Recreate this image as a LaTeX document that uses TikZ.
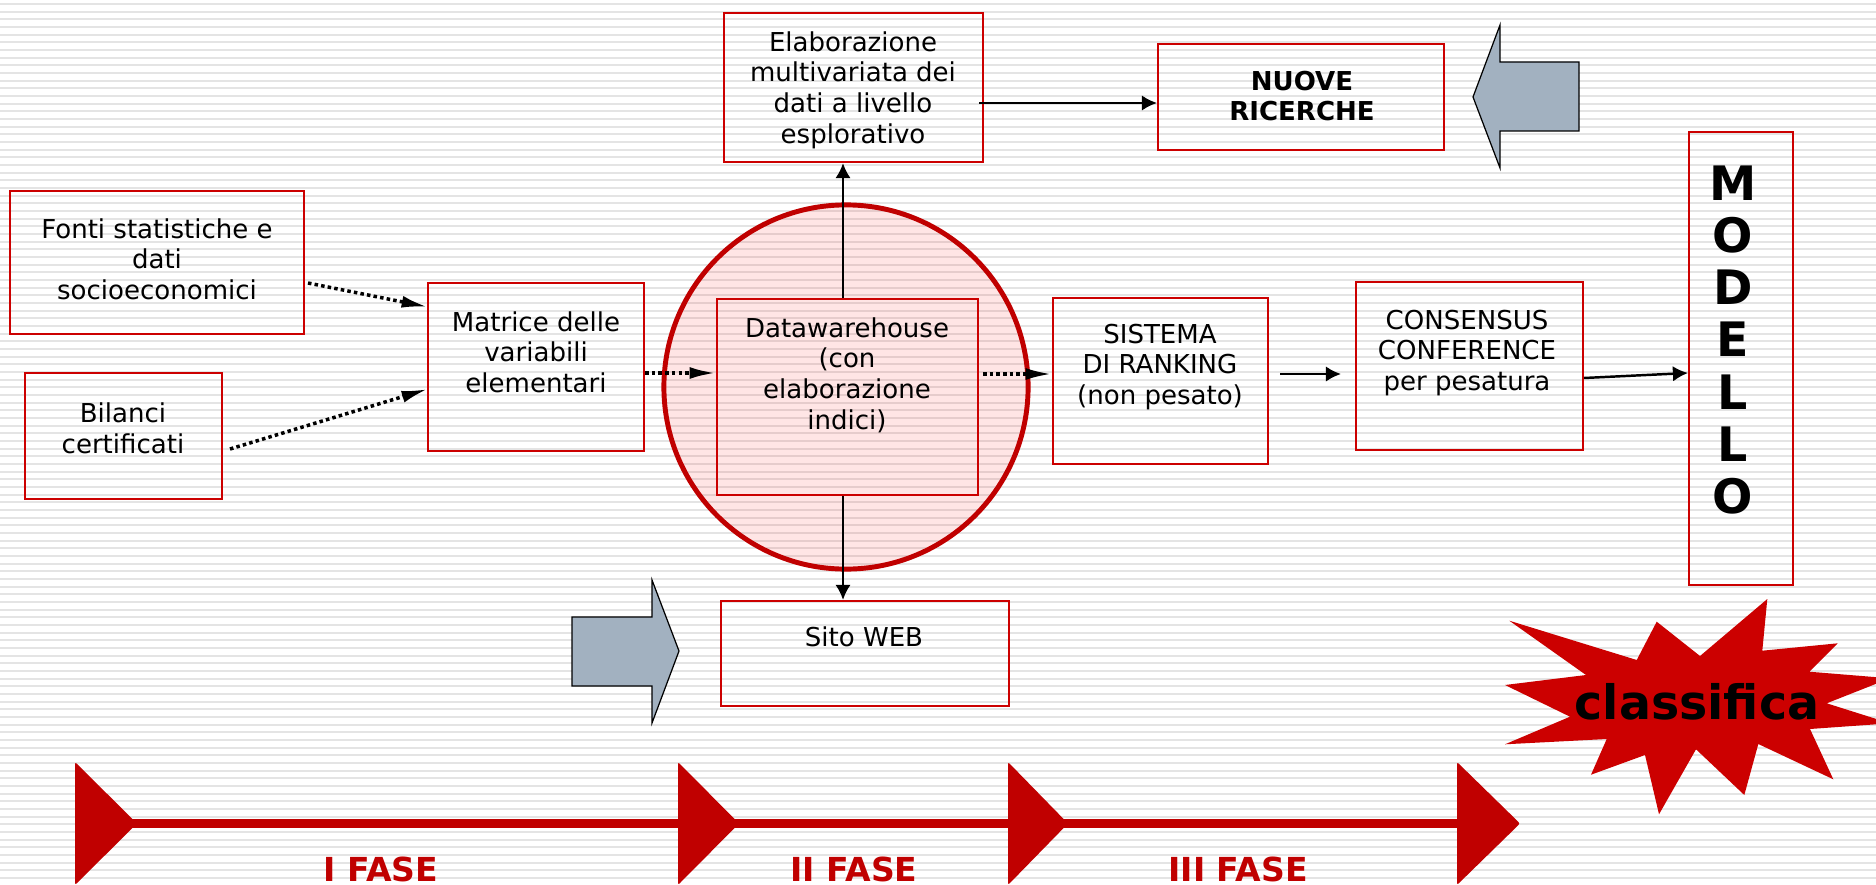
\documentclass[tikz,border=0pt]{standalone}
\usepackage{fontspec}
\setmainfont{DejaVu Sans}
\usetikzlibrary{arrows.meta}
\definecolor{boxred}{RGB}{204,0,0}
\definecolor{darkred}{RGB}{192,0,0}
\definecolor{arrowgray}{RGB}{162,177,192}
\definecolor{stripecol}{RGB}{228,228,228}
\begin{document}
\begin{tikzpicture}[x=0.01cm,y=-0.01cm,
  box/.style={draw=boxred, line width=0.6pt, inner sep=0pt},
  txt/.style={align=center, font=\fontsize{7.4}{8.7}\selectfont, inner sep=0pt, text=black},
  btxt/.style={align=center, font=\fontsize{7.4}{8.7}\selectfont\bfseries, inner sep=0pt, text=black},
  conn/.style={line width=0.7pt, -{Latex[length=4.3pt,width=4.4pt]}},
  dconn/.style={line width=1pt, dash pattern=on 1pt off 0.9pt, -{Latex[length=7.5pt,width=3.4pt]}},
  grayarrow/.style={fill=arrowgray, draw=black, line width=0.35pt, line join=miter},
  phase/.style={font=\fontsize{9.4}{11}\selectfont\bfseries, text=darkred, inner sep=0pt},
  phasetri/.style={fill=darkred, rounded corners=0.6pt}
]
\useasboundingbox (0,0) rectangle (1876,885);
\begin{scope}
\clip (0,0) rectangle (1876,885);
% background
\fill[white] (0,0) rectangle (1876,885);
\foreach \k in {0,...,115}
  \draw[stripecol, line width=0.02cm] (0,{4+7.667*\k}) -- (1876,{4+7.667*\k});

% circle
\node[circle, draw=darkred, line width=1.4pt, fill=red, fill opacity=0.1, draw opacity=1,
      minimum size=3.64cm, inner sep=0pt] (circ) at (846,387) {};

% boxes
\node[box, minimum width=2.59cm, minimum height=1.49cm] (elab) at (853.5,87.5) {};
\node[box, minimum width=2.86cm, minimum height=1.06cm] (nuove) at (1301,97) {};
\node[box, minimum width=1.04cm, minimum height=4.53cm] (modello) at (1741,358.5) {};
\node[box, minimum width=2.94cm, minimum height=1.43cm] (fonti) at (157,262.5) {};
\node[box, minimum width=1.97cm, minimum height=1.26cm] (bilanci) at (123.5,436) {};
\node[box, minimum width=2.16cm, minimum height=1.68cm] (matrice) at (536,367) {};
\node[box, minimum width=2.61cm, minimum height=1.96cm] (dw) at (847.5,397) {};
\node[box, minimum width=2.88cm, minimum height=1.05cm] (sito) at (865,653.5) {};
\node[box, minimum width=2.15cm, minimum height=1.66cm] (sistema) at (1160.5,381) {};
\node[box, minimum width=2.27cm, minimum height=1.68cm] (consensus) at (1469.5,366) {};

% texts
\node[txt] (elabT) at (853,90) {Elaborazione\\multivariata dei\\dati a livello\\esplorativo};
\node[btxt] (nuoveT) at (1302,96) {NUOVE\\RICERCHE};
\node[txt] (fontiT) at (157,259) {Fonti statistiche e\\dati\\socioeconomici};
\node[txt] (bilanciT) at (123,428) {Bilanci\\certificati};
\node[txt] (matriceT) at (536,352) {Matrice delle\\variabili\\elementari};
\node[txt] (dwT) at (847,375) {Datawarehouse\\(con\\elaborazione\\indici)};
\node[txt] (sistemaT) at (1160,367) {SISTEMA\\DI RANKING\\(non pesato)};
\node[txt] (consensusT) at (1467,353) {CONSENSUS\\CONFERENCE\\per pesatura};
\node[txt] (sitoT) at (864,637) {Sito WEB};
\node[align=center, inner sep=0pt, font=\fontsize{13.5}{14.8}\selectfont\bfseries] (modelloT) at (1733,340)
  {M\\O\\D\\E\\L\\L\\O};

% connector end points
\coordinate (fontiOut) at (308,283);
\coordinate (matIn1) at (428,307);
\coordinate (bilOut) at (230,449);
\coordinate (matIn2) at (428,389);
\coordinate (dwOut) at (983,374);
\coordinate (sisIn) at (1052,374);
\coordinate (sisOut) at (1280,374);
\coordinate (conIn) at (1341,374);
\coordinate (conOut) at (1584,378);
\coordinate (modIn) at (1688,373);
\coordinate (elabOut) at (979,103);
\coordinate (nuoveIn) at (1157,103);

% connectors
\draw[dconn] (fontiOut) -- (matIn1);
\draw[dconn] (bilOut) -- (matIn2);
\draw[dconn] (matrice.east |- 0,373) -- (dw.west |- 0,373);
\draw[dconn] (dwOut) -- (sisIn);
\draw[conn] (sisOut) -- (conIn);
\draw[conn] (conOut) -- (modIn);
\draw[conn] (elabOut) -- (nuoveIn);
\draw[conn] (843,0 |- dw.north) -- (843,0 |- elab.south);
\draw[conn] (843,0 |- dw.south) -- (843,0 |- sito.north);

% gray block arrows
\draw[grayarrow] (1473,97) -- (1500,25) -- (1500,62) -- (1579,62) -- (1579,131) -- (1500,131) -- (1500,168) -- cycle;
\draw[grayarrow] (679,651) -- (652,580) -- (652,617) -- (572,617) -- (572,686) -- (652,686) -- (652,723) -- cycle;

% star
\fill[boxred] (1509.3,620.7) -- (1636.7,660) -- (1656.7,621.7) -- (1700,656) -- (1767.3,599)
  -- (1762.3,650.7) -- (1837.7,643.3) -- (1809.3,671.7) -- (1890,678.3) -- (1826.7,703.3)
  -- (1890,723.3) -- (1810,729) -- (1833.3,779.3) -- (1758.3,744) -- (1744.3,795)
  -- (1696,749.3) -- (1659,814.3) -- (1645,755) -- (1591,774.7) -- (1606.7,739)
  -- (1505,744.3) -- (1570,716.7) -- (1505,685) -- (1586,675) -- cycle;
\node[inner sep=0pt, font=\fontsize{13.5}{15}\selectfont\bfseries] (classifica) at (1697,702) {classifica};

% phases
\draw[darkred, line width=0.09cm] (130,823.5) -- (1457,823.5);
\fill[phasetri] (75,762) -- (137,823.5) -- (75,885) -- cycle;
\fill[phasetri] (678,762) -- (739,823.5) -- (678,885) -- cycle;
\fill[phasetri] (1008,762) -- (1068,823.5) -- (1008,885) -- cycle;
\fill[phasetri] (1457,762) -- (1520,823.5) -- (1457,885) -- cycle;
\node[phase] (f1) at (381,869) {I FASE};
\node[phase] (f2) at (854,869) {II FASE};
\node[phase] (f3) at (1238,869) {III FASE};
\end{scope}
\end{tikzpicture}
\end{document}
